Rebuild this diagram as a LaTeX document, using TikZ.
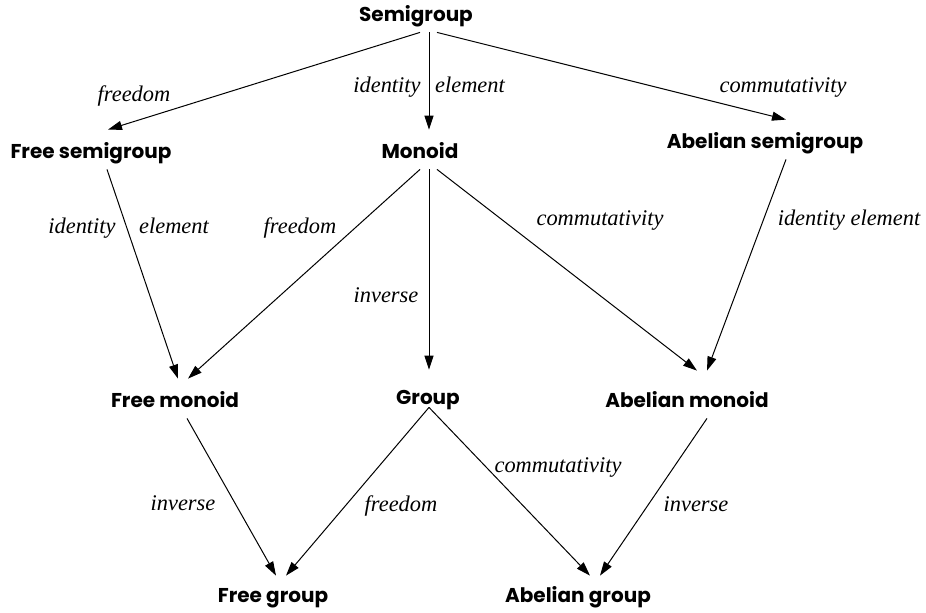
\documentclass[tikz,border=0pt]{standalone}
\usepackage{fontspec}
\setmainfont{Liberation Serif}
\newfontfamily\boxfont{Poppins}
\usetikzlibrary{arrows.meta,calc}

\begin{document}
\begin{tikzpicture}[
    x=0.5pt, y=-0.5pt,
    box/.style={font=\boxfont\bfseries\fontsize{10}{12}\selectfont, anchor=base, inner xsep=2pt, inner ysep=3pt, text height=11pt, text depth=2.5pt},
    prop/.style={font=\itshape\fontsize{11.2}{13}\selectfont, anchor=base, inner sep=0pt},
    arrow/.style={-{Triangle[length=7pt,width=4.5pt]}, line width=0.5pt}
]
\useasboundingbox (0,0) rectangle (926,612);

\node[box] (semigroup) at (416,21) {Semigroup};
\node[box] (freesg) at (91,158) {Free semigroup};
\node[box] (monoid) at (420,158) {Monoid};
\node[box] (abeliansg) at (765,148) {Abelian semigroup};
\node[box] (freemon) at (175,407) {Free monoid};
\node[box] (group) at (428,404) {Group};
\node[box] (abelianmon) at (687,407) {Abelian monoid};
\node[box] (freegrp) at (273,602) {Free group};
\node[box] (abeliangrp) at (578,602) {Abelian group};

% properties added along each arrow
\node[prop] (p-free1) at (134,101) {freedom};
\node[prop] (p-id1) at (387,92) {identity};
\node[prop] (p-el1) at (470,92) {element};
\node[prop] (p-comm1) at (783,92) {commutativity};
\node[prop] (p-id2) at (82,233) {identity};
\node[prop] (p-el2) at (174,233) {element};
\node[prop] (p-free2) at (300,233) {freedom};
\node[prop] (p-comm2) at (600,225) {commutativity};
\node[prop] (p-idel) at (849,225) {identity element};
\node[prop] (p-inv1) at (386,302) {inverse};
\node[prop] (p-inv2) at (183,510) {inverse};
\node[prop] (p-free3) at (401,511) {freedom};
\node[prop] (p-comm3) at (558,472) {commutativity};
\node[prop] (p-inv3) at (696,511) {inverse};

\draw[arrow] ([xshift=2pt]semigroup.south) -- ([xshift=8.5pt]freesg.north);
\draw[arrow] ([xshift=6.5pt]semigroup.south) -- ([xshift=4.5pt]monoid.north);
\draw[arrow] ([xshift=10.5pt]semigroup.south) -- ([xshift=10.5pt]abeliansg.north);
\draw[arrow] ([xshift=8pt]freesg.south) -- ([xshift=1.5pt]freemon.north);
\draw[arrow] (monoid.south) -- ([xshift=6.5pt]freemon.north);
\draw[arrow] ([xshift=4.5pt]monoid.south) -- ([xshift=0.5pt,yshift=3pt]group.north);
\draw[arrow] ([xshift=8.5pt]monoid.south) -- ([xshift=5pt,yshift=4pt]abelianmon.north);
\draw[arrow] ([xshift=10.5pt]abeliansg.south) -- ([xshift=10pt,yshift=4pt]abelianmon.north);
\draw[arrow] ([xshift=6pt]freemon.south) -- ([xshift=1.5pt,yshift=-1pt]freegrp.north);
\draw[arrow] ([xshift=0.5pt,yshift=4pt]group.south) -- ([xshift=6.5pt,yshift=-1pt]freegrp.north);
\draw[arrow] ([xshift=0.5pt,yshift=4pt]group.south) -- ([xshift=6pt,yshift=-1pt]abeliangrp.north);
\draw[arrow] ([xshift=10pt]abelianmon.south) -- ([xshift=11pt,yshift=-1pt]abeliangrp.north);

\end{tikzpicture}
\end{document}
